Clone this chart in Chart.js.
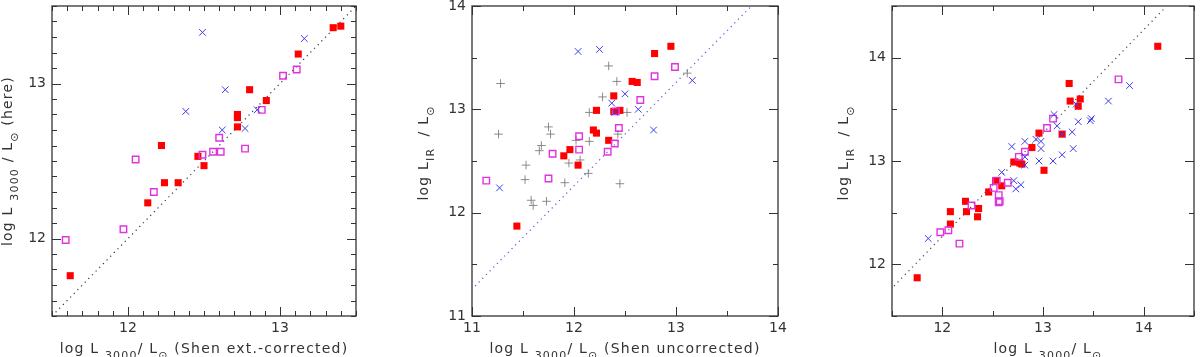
<!DOCTYPE html>
<html>
<head>
<meta charset="utf-8">
<script src="https://cdn.jsdelivr.net/npm/chart.js@4"></script>
<style>
  body { margin: 0; background: #fff; }
  .panel { position: absolute; top: 0; height: 357px; }
</style>
</head>
<body>
<div class="panel" style="left:0;width:362px"><canvas id="p1"></canvas></div>
<div class="panel" style="left:400px;width:396px"><canvas id="p2"></canvas></div>
<div class="panel" style="left:800px;width:400px"><canvas id="p3"></canvas></div>
<script>
// ---- panel 1: L3000 here vs Shen ext.-corrected
const p1RedX = [11.62, 12.13, 12.22, 12.24, 12.33, 12.46, 12.50, 12.72, 12.72, 12.72, 12.80, 12.91, 13.12, 13.35, 13.40];
const p1RedY = [11.76, 12.23, 12.60, 12.36, 12.36, 12.53, 12.47, 12.72, 12.80, 12.78, 12.96, 12.89, 13.19, 13.36, 13.37];
const p1MagX = [11.59, 11.97, 12.05, 12.17, 12.49, 12.56, 12.61, 12.60, 12.77, 12.88, 13.02, 13.11];
const p1MagY = [11.99, 12.06, 12.51, 12.30, 12.54, 12.56, 12.56, 12.65, 12.58, 12.83, 13.05, 13.09];
const p1BlueX = [12.49, 12.38, 12.64, 12.62, 12.77, 12.85, 13.16];
const p1BlueY = [13.33, 12.82, 12.96, 12.70, 12.71, 12.83, 13.29];
const diag1X = [11.5, 13.5];
const diag1Y = [11.5, 13.5];
const ticks1 = [12, 13];

// ---- panel 2: L_IR vs Shen uncorrected
const p2RedX = [11.44, 11.90, 11.96, 12.04, 12.22, 12.19, 12.22, 12.34, 12.39, 12.39, 12.45, 12.57, 12.62, 12.79, 12.95];
const p2RedY = [11.87, 12.55, 12.61, 12.46, 12.99, 12.80, 12.77, 12.70, 13.13, 12.98, 12.99, 13.27, 13.26, 13.54, 13.61];
const p2MagX = [11.14, 11.75, 11.79, 12.05, 12.05, 12.33, 12.40, 12.44, 12.65, 12.79, 12.99, 12.41];
const p2MagY = [12.31, 12.33, 12.57, 12.74, 12.61, 12.59, 12.67, 12.82, 13.09, 13.32, 13.41, 12.98];
const p2BlueX = [11.27, 12.04, 12.25, 12.37, 12.50, 12.63, 12.78, 13.16, 12.40];
const p2BlueY = [12.24, 13.56, 13.58, 13.06, 13.15, 13.00, 12.80, 13.28, 12.97];
const p2GrayX = [11.28, 11.26, 11.75, 11.77, 11.68, 11.66, 11.53, 11.52, 11.58, 11.60, 11.73, 11.91, 11.95,
                 12.06, 12.14, 12.15, 12.02, 12.15, 12.28, 12.34, 12.42, 12.52, 12.43, 12.45, 13.11];
const p2GrayY = [13.25, 12.76, 12.83, 12.76, 12.65, 12.60, 12.46, 12.32, 12.12, 12.07, 12.11, 12.29, 12.48,
                 12.51, 12.38, 12.69, 12.70, 12.97, 13.12, 13.42, 13.27, 12.97, 12.76, 12.28, 13.35];
const diag2X = [11.03, 13.74];
const diag2Y = [11.29, 14.0];
const ticks2 = [11, 12, 13, 14];

// ---- panel 3: L_IR vs L3000
const p3RedX = [11.75, 12.08, 12.08, 12.23, 12.24, 12.36, 12.35, 12.46, 12.53, 12.59, 12.71, 12.77, 12.79,
                12.89, 12.96, 13.01, 13.19, 13.26, 13.27, 13.35, 13.37, 14.14];
const p3RedY = [11.87, 12.51, 12.39, 12.61, 12.51, 12.54, 12.46, 12.70, 12.81, 12.76, 12.99, 12.98, 12.97,
                13.13, 13.27, 12.91, 13.26, 13.75, 13.58, 13.53, 13.60, 14.11];
const p3MagX = [11.98, 12.06, 12.17, 12.29, 12.51, 12.54, 12.56, 12.56, 12.57, 12.65, 12.76, 12.82, 13.04, 13.10, 13.75];
const p3MagY = [12.31, 12.33, 12.20, 12.57, 12.74, 12.81, 12.67, 12.60, 12.61, 12.79, 13.04, 13.09, 13.32, 13.41, 13.79];
const p3BlueX = [11.86, 12.59, 12.71, 12.73, 12.78, 12.69, 12.82, 12.82, 12.93, 12.98, 12.98, 12.96, 13.10,
                 13.11, 13.14, 13.19, 13.19, 13.29, 13.30, 13.35, 13.33, 13.47, 13.48, 13.65, 13.86, 12.82];
const p3BlueY = [12.25, 12.89, 12.81, 12.73, 12.77, 13.14, 13.19, 12.96, 13.21, 13.19, 13.12, 13.00, 13.00,
                 13.45, 13.34, 13.26, 13.06, 13.28, 13.12, 13.38, 13.55, 13.39, 13.41, 13.58, 13.73, 13.04];
const diag3X = [11.52, 14.21];
const diag3Y = [11.79, 14.48];
const ticks3 = [12, 13, 14];

const FONT = 'DejaVu Sans';
const INK = '#333';

function pts(xs, ys) {
  return xs.map((x, i) => ({ x: x, y: ys[i] }));
}

function isMajor(v) {
  return Math.abs(v - Math.round(v)) < 1e-6;
}

function tickValues(lo, hi, step) {
  const out = [];
  const n = Math.round((hi - lo) / step);
  for (let i = 0; i <= n; i++) out.push(lo + i * step);
  return out;
}

// inward tick marks, placed along the chart area of the linear axes
function drawTicks(chart, xr, yr, step) {
  const ctx = chart.ctx;
  const a = chart.chartArea;
  const w = a.right - a.left, h = a.bottom - a.top;
  ctx.save();
  ctx.setLineDash([]);
  ctx.globalAlpha = 1;
  ctx.globalCompositeOperation = 'source-over';
  ctx.fillStyle = INK;
  tickValues(xr[0], xr[1], step).forEach(v => {
    const p = Math.round(a.left + (v - xr[0]) / (xr[1] - xr[0]) * w);
    const len = isMajor(v) ? 9 : 5;
    ctx.fillRect(p, Math.round(a.bottom) - len, 1, len);
    ctx.fillRect(p, Math.round(a.top), 1, len);
  });
  tickValues(yr[0], yr[1], step).forEach(v => {
    const p = Math.round(a.bottom - (v - yr[0]) / (yr[1] - yr[0]) * h);
    const len = isMajor(v) ? 9 : 5;
    ctx.fillRect(Math.round(a.left), p, len, 1);
    ctx.fillRect(Math.round(a.right) - len, p, len, 1);
  });
  ctx.restore();
}

function framePlugin(xr, yr, step) {
  return {
    id: 'frame',
    beforeDatasetsDraw(chart) {
      drawTicks(chart, xr, yr, step);
    },
    afterDraw(chart) {
      const ctx = chart.ctx;
      const a = chart.chartArea;
      ctx.save();
      ctx.setLineDash([]);
      ctx.strokeStyle = INK;
      ctx.lineWidth = 1.3;
      ctx.strokeRect(a.left, a.top, a.right - a.left, a.bottom - a.top);
      ctx.restore();
      drawTicks(chart, xr, yr, step);
    }
  };
}

// axis titles with subscripts
function drawRich(ctx, parts, size, cx, letter) {
  const sub = Math.round(size * 0.8);
  ctx.letterSpacing = letter + 'px';
  let total = 0;
  parts.forEach(p => {
    ctx.font = (p[1] ? sub : size) + 'px "' + FONT + '"';
    total += ctx.measureText(p[0]).width;
  });
  let x = cx - total / 2;
  parts.forEach(p => {
    ctx.font = (p[1] ? sub : size) + 'px "' + FONT + '"';
    ctx.fillText(p[0], x, p[1] ? size * 0.45 : 0);
    x += ctx.measureText(p[0]).width;
  });
  ctx.letterSpacing = '0px';
}

function titlePlugin(t) {
  return {
    id: 'axisTitles',
    afterDraw(chart) {
      const ctx = chart.ctx;
      const a = chart.chartArea;
      ctx.save();
      ctx.fillStyle = INK;
      ctx.textBaseline = 'alphabetic';
      ctx.save();
      ctx.translate(0, t.xBase);
      drawRich(ctx, t.xTitle, t.size, (a.left + a.right) / 2 + t.xShift, t.letter);
      ctx.restore();
      ctx.save();
      ctx.translate(t.yBase, (a.top + a.bottom) / 2 + t.yShift);
      ctx.rotate(-Math.PI / 2);
      drawRich(ctx, t.yTitle, t.size, 0, t.letter);
      ctx.restore();
      ctx.restore();
    }
  };
}

function scatterSet(data, style, color, fill, radius, width) {
  return {
    type: 'scatter',
    data: data,
    pointStyle: style,
    pointRadius: radius,
    pointBorderColor: color,
    pointBackgroundColor: fill ? color : 'rgba(0,0,0,0)',
    pointBorderWidth: width,
    showLine: false
  };
}

function axis(min, max, labels, side) {
  return {
    type: 'linear',
    min: min,
    max: max,
    afterBuildTicks: s => { s.ticks = labels.map(v => ({ value: v })); },
    ticks: {
      autoSkip: false,
      maxRotation: 0,
      padding: side === 'x' ? 4 : 6,
      color: INK,
      font: { family: FONT, size: 14 },
      callback: v => String(Math.round(v))
    },
    grid: { display: false, drawTicks: false },
    border: { display: false }
  };
}

function makeChart(id, sets, xr, yr, labels, step, yWidth, padRight, titles) {
  const xAxis = axis(xr[0], xr[1], labels, 'x');
  xAxis.afterFit = s => { s.height = 41; s.paddingLeft = 0; s.paddingRight = 0; };
  const yAxis = axis(yr[0], yr[1], labels, 'y');
  yAxis.afterFit = s => { s.width = yWidth; s.paddingTop = 0; s.paddingBottom = 0; };
  new Chart(document.getElementById(id), {
    type: 'scatter',
    data: { datasets: sets },
    options: {
      responsive: true,
      maintainAspectRatio: false,
      animation: false,
      events: [],
      layout: { padding: { top: 5, right: padRight, left: 0, bottom: 0 } },
      scales: { x: xAxis, y: yAxis },
      plugins: {
        legend: { display: false },
        tooltip: { enabled: false }
      }
    },
    plugins: [framePlugin(xr, yr, step), titlePlugin(titles)]
  });
}

function diagSet(xs, ys, color) {
  return {
    type: 'line',
    data: pts(xs, ys),
    borderColor: color,
    borderWidth: 1.2,
    borderDash: [1.2, 4],
    pointRadius: 0,
    fill: false
  };
}

const BLUE = '#3b3bf0', MAG = '#e033e0', RED = '#ff0000', GRAY = '#707070';

makeChart('p1', [
  scatterSet(pts(p1BlueX, p1BlueY), 'crossRot', BLUE, false, 4.7, 1),
  scatterSet(pts(p1MagX, p1MagY), 'rect', MAG, false, 4.6, 1.4),
  scatterSet(pts(p1RedX, p1RedY), 'rect', RED, true, 5, 0),
  diagSet(diag1X, diag1Y, '#2f3550')
], [11.5, 13.5], [11.5, 13.5], ticks1, 0.1, 52, 3, {
  size: 14, letter: 1.2, xBase: 353, xShift: 0, yBase: 12, yShift: 0,
  xTitle: [['log L ', 0], ['3000', 1], ['/ L', 0], ['\u2299', 1], [' (Shen ext.-corrected)', 0]],
  yTitle: [['log L ', 0], ['3000', 1], [' / L', 0], ['\u2299', 1], [' (here)', 0]]
});

makeChart('p2', [
  scatterSet(pts(p2BlueX, p2BlueY), 'crossRot', BLUE, false, 4.7, 1),
  scatterSet(pts(p2MagX, p2MagY), 'rect', MAG, false, 4.6, 1.4),
  scatterSet(pts(p2RedX, p2RedY), 'rect', RED, true, 5, 0),
  scatterSet(pts(p2GrayX, p2GrayY), 'cross', GRAY, false, 4.3, 0.8),
  diagSet(diag2X, diag2Y, '#5a5ad0')
], [11, 14], [11, 14], ticks2, 0.5, 72, 18, {
  size: 14, letter: 1.2, xBase: 353, xShift: 0, yBase: 28, yShift: -8,
  xTitle: [['log L ', 0], ['3000', 1], ['/ L', 0], ['\u2299', 1], [' (Shen uncorrected)', 0]],
  yTitle: [['log L', 0], ['IR', 1], ['  / L', 0], ['\u2299', 1]]
});

makeChart('p3', [
  scatterSet(pts(p3BlueX, p3BlueY), 'crossRot', BLUE, false, 4.7, 1),
  scatterSet(pts(p3MagX, p3MagY), 'rect', MAG, false, 4.6, 1.4),
  scatterSet(pts(p3RedX, p3RedY), 'rect', RED, true, 5, 0),
  diagSet(diag3X, diag3Y, '#444')
], [11.5, 14.5], [11.5, 14.5], ticks3, 0.5, 92, 2, {
  size: 14, letter: 1.2, xBase: 353, xShift: 5, yBase: 48, yShift: -8,
  xTitle: [['log L ', 0], ['3000', 1], ['/ L', 0], ['\u2299', 1]],
  yTitle: [['log L', 0], ['IR', 1], ['  / L', 0], ['\u2299', 1]]
});
</script>
</body>
</html>
